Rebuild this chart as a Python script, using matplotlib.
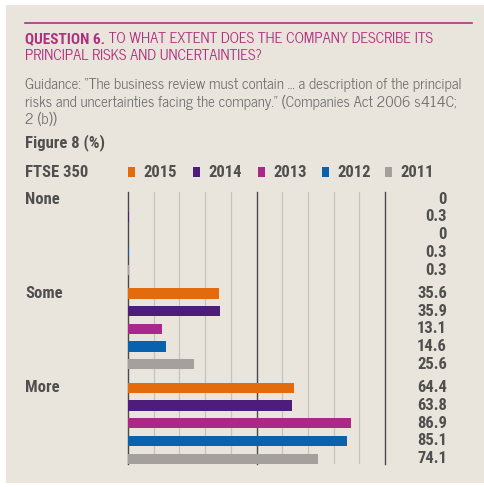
import matplotlib
matplotlib.use('Agg')
import matplotlib.pyplot as plt
from matplotlib.patches import Rectangle
from matplotlib.transforms import blended_transform_factory

# Dati (Figure 8, FTSE 350, %)
categories = ['None', 'Some', 'More']
years = ['2015', '2014', '2013', '2012', '2011']
colors = ['#E36B0C', '#4E1C7A', '#A9288A', '#0A62AE', '#A3A09D']
v2015 = [0, 35.6, 64.4]
v2014 = [0.3, 35.9, 63.8]
v2013 = [0, 13.1, 86.9]
v2012 = [0.3, 14.6, 85.1]
v2011 = [0.3, 25.6, 74.1]
labels = [['0', '0.3', '0', '0.3', '0.3'],
          ['35.6', '35.9', '13.1', '14.6', '25.6'],
          ['64.4', '63.8', '86.9', '85.1', '74.1']]

series = [v2015, v2014, v2013, v2012, v2011]

W, H = 484, 487
BG = '#EAE5DC'
MAG = '#B0307F'
GREY = '#707070'
DARK = '#4F4F4F'
FS = 12
BOLD = dict(family=['Roboto Condensed', 'DejaVu Sans'], fontweight='bold', color=DARK, fontsize=FS)

plt.rcParams['font.family'] = ['News Cycle', 'Roboto Condensed', 'DejaVu Sans']

fig = plt.figure(figsize=(W / 100, H / 100), dpi=100)
fig.patch.set_facecolor('white')

# asse di sfondo in pixel (origine in alto a sinistra)
bg = fig.add_axes([0, 0, 1, 1], zorder=0)
bg.set_xlim(0, W)
bg.set_ylim(H, 0)
bg.axis('off')
bg.add_patch(Rectangle((6, 5), W - 6, 478, facecolor=BG, edgecolor='none'))
bg.plot([25, 472], [23, 23], color=MAG, lw=1.2)

# titolo
t = bg.text(25, 43, 'QUESTION 6.', va='baseline', **{**BOLD, 'color': MAG, 'fontsize': 11})
bg.annotate(' TO WHAT EXTENT DOES THE COMPANY DESCRIBE ITS', xy=(1, 0), xycoords=t,
            color=MAG, fontsize=10.6, va='bottom', ha='left', annotation_clip=False)
bg.text(25, 60, 'PRINCIPAL RISKS AND UNCERTAINTIES?', color=MAG, fontsize=10.6, va='baseline')

guid = ['Guidance: \u201cThe business review must contain \u2026 a description of the principal',
        'risks and uncertainties facing the company.\u201d (Companies Act 2006 s414C;',
        '2 (b))']
for i, line in enumerate(guid):
    bg.text(25, 89 + 17.5 * i, line, color=GREY, fontsize=10.7, va='baseline')

bg.text(25, 147, 'Figure 8 (%)', va='baseline', **BOLD)
bg.text(25, 177, 'FTSE 350', va='baseline', **BOLD)

# legenda
leg_x = [128, 193, 258, 322, 385]
for x, c, y in zip(leg_x, colors, years):
    bg.add_patch(Rectangle((x, 167), 7, 10, facecolor=c, edgecolor='none'))
    bg.text(x + 15, 177, y, va='baseline', **BOLD)

# grafico a barre
ax = fig.add_axes([128 / W, 1 - 464 / H, 257 / W, 272 / H], zorder=1)
ax.set_facecolor('none')
for s in ax.spines.values():
    s.set_visible(False)
ax.set_xticks([])
ax.set_yticks([])
ax.set_xlim(0, 100)

pitch = 5.32
for g in range(len(categories)):
    for i in range(len(series)):
        y = g * pitch + i
        ax.barh(y, series[i][g], height=0.58, color=colors[i], zorder=5)
ax.set_ylim(2 * pitch + 4 + 0.3, -0.4)

for x in range(10, 100, 10):
    if x != 50:
        ax.axvline(x, color='#C9C4BB', lw=0.9, zorder=1)
for x in [0, 50, 100]:
    ax.axvline(x, color='#4A4A4A', lw=1.0, zorder=2, clip_on=False)

# etichette
tr = blended_transform_factory(fig.transFigure, ax.transData)
for g, cat in enumerate(categories):
    ax.text(25 / W, g * pitch, cat, transform=tr, va='center', clip_on=False, **BOLD)
    for i in range(len(series)):
        ax.text(124.1, g * pitch + i, labels[g][i], ha='right', va='center',
                clip_on=False, **BOLD)

fig.savefig('out.png', dpi=100, facecolor='white')
